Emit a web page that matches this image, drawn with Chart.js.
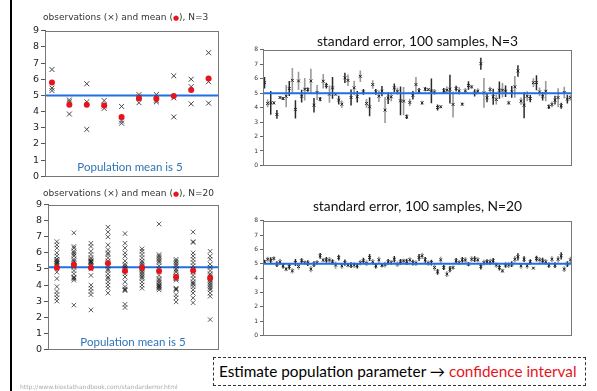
<!DOCTYPE html>
<html><head><meta charset="utf-8">
<script src="https://cdn.jsdelivr.net/npm/chart.js@4.4.1/dist/chart.umd.min.js"></script>
<style>
html,body{margin:0;padding:0;background:#fff;}
body{width:597px;height:391px;position:relative;overflow:hidden;font-family:"DejaVu Sans",sans-serif;}
canvas{position:absolute;}
.vbar{position:absolute;left:10px;top:0;width:2px;height:391px;background:#000;}
.ltitle{position:absolute;font-family:"DejaVu Sans";font-size:9px;color:#333;white-space:nowrap;line-height:12px;}
.ltitle .dot{color:#e8141c;font-size:7px;}
.pop{position:absolute;font-family:Lato;font-size:11.5px;color:#2e75b6;white-space:nowrap;transform:translateX(-50%);line-height:14px;}
.box{position:absolute;left:213px;top:357px;width:373px;height:29px;border:1px dashed #333;box-sizing:border-box;font-family:Lato;font-size:15.3px;line-height:27px;color:#000;white-space:nowrap;padding-left:5px;}
.box .red{color:#e8141c;}
.url{position:absolute;left:20px;top:383px;font-family:"DejaVu Sans";font-size:6px;color:#aaa;white-space:nowrap;line-height:8px;}
</style>
</head><body>
<div class="vbar"></div>
<canvas id="tl" width="206" height="161" style="left:18px;top:23px"></canvas>
<canvas id="bl" width="206" height="160" style="left:18px;top:197px"></canvas>
<canvas id="tr" width="341" height="141" style="left:236px;top:30px"></canvas>
<canvas id="br" width="341" height="146" style="left:236px;top:195px"></canvas>
<div class="ltitle" style="left:43px;top:11px">observations (×) and mean (<span class="dot">●</span>), N=3</div>
<div class="ltitle" style="left:43px;top:187px">observations (×) and mean (<span class="dot">●</span>), N=20</div>
<div class="pop" style="left:130px;top:160px">Population mean is 5</div>
<div class="pop" style="left:133px;top:335px">Population mean is 5</div>
<div class="box">Estimate population parameter → <span class="red">confidence interval</span></div>
<div class="url">http://www.biostathandbook.com/standarderror.html</div>
<script>
// ---------- data ----------
const groups = [1,2,3,4,5,6,7,8,9,10];
const popMean = 5;
const popLineN20 = 5.1;

const obsN3 = [
  [6.6,5.45,5.3],[4.72,4.6,3.85],[5.72,4.6,2.9],[4.68,4.35,4.2],[4.32,3.42,3.28],
  [5.05,4.55,4.9],[4.7,4.6,5.05],[6.21,4.85,3.67],[6.0,5.54,4.48],[7.64,5.85,4.52]
];
const meanN3 = [5.8,4.42,4.42,4.38,3.67,4.83,4.79,4.97,5.34,6.05];

const obsN20 = [
  [6.7,6.5,6.3,6.0,5.8,5.6,5.6,5.5,5.45,5.4,5.35,5.3,5.2,4.8,4.4,3.9,3.6,3.4,3.2,3.0],
  [7.25,6.4,6.3,6.1,6.0,5.9,5.8,5.6,5.5,5.4,5.3,5.2,5.1,4.9,4.7,4.5,4.45,4.4,4.3,2.75],
  [6.6,6.4,6.1,5.9,5.7,5.6,5.5,5.5,5.45,5.4,5.4,5.3,5.2,5.0,4.6,4.0,3.8,3.6,3.4,2.45],
  [7.6,7.3,7.0,6.5,6.2,6.0,5.9,5.7,5.5,5.4,5.2,5.0,4.9,4.7,4.5,4.4,4.2,4.0,3.8,3.5],
  [7.2,6.6,6.3,6.0,5.8,5.5,5.3,5.2,5.1,5.0,4.9,4.7,4.5,4.2,3.9,3.75,3.7,3.65,2.8,2.6],
  [6.25,6.1,5.9,5.7,5.5,5.4,5.3,5.2,5.1,5.05,5.0,4.9,4.8,4.7,4.6,4.5,4.4,4.2,4.0,3.8],
  [7.8,5.9,5.8,5.7,5.6,5.5,5.4,5.2,5.0,4.6,4.4,4.3,4.2,4.1,4.0,3.95,3.9,3.85,3.8,3.7],
  [5.6,5.5,5.4,5.3,5.2,5.0,4.9,4.8,4.6,4.5,4.4,4.5,4.4,4.3,3.8,3.75,3.7,3.4,3.2,2.95],
  [7.3,6.7,6.65,6.0,5.8,5.6,5.4,5.2,5.0,4.8,4.6,4.4,4.2,4.1,4.05,3.9,3.7,3.5,3.2,2.9],
  [6.1,5.8,5.6,5.3,5.1,4.9,4.7,4.6,4.5,4.4,4.3,4.2,4.1,4.0,3.9,3.8,3.7,3.5,3.3,1.85]
];
const meanN20 = [5.07,5.26,5.07,5.36,4.87,5.07,4.87,4.5,4.91,4.44];

const sampleMeansN3 = [
  5.73,4.29,4.33,4.33,3.53,4.70,4.63,4.79,5.32,5.89,
  3.88,5.85,4.79,5.28,5.25,5.85,4.17,5.05,4.59,5.83,
  5.53,4.93,5.37,4.93,4.52,4.24,6.06,5.89,4.70,5.37,
  4.75,6.17,5.09,4.29,4.06,5.60,5.09,4.79,5.14,3.83,
  4.66,4.75,5.37,5.14,4.47,4.45,3.37,4.36,4.86,5.60,
  5.16,4.33,5.28,5.25,5.16,5.09,4.01,4.06,5.16,5.21,
  5.28,4.22,5.32,5.16,4.24,5.16,5.53,5.44,5.02,5.14,
  7.04,5.02,4.68,5.25,4.75,4.56,5.21,5.21,5.14,4.33,
  5.09,5.44,6.54,4.45,4.17,4.79,4.63,5.73,5.73,5.09,
  4.79,5.14,4.06,4.22,4.52,4.70,4.13,5.05,4.59,4.70
];
const sampleSEN3 = [
  0.40,0.27,0.82,0.12,0.30,0.10,0.10,0.77,0.52,0.86,
  0.63,0.63,0.44,0.78,0.15,0.84,0.50,0.52,0.15,0.50,
  0.20,0.60,0.75,0.10,0.30,0.25,0.35,0.40,0.55,0.50,
  0.40,0.40,0.20,0.30,0.66,0.30,0.20,0.40,0.35,0.90,
  0.40,0.30,0.30,0.25,1.00,0.98,0.15,0.25,0.30,0.52,
  0.20,0.15,0.15,0.10,0.86,0.20,0.20,0.10,0.20,0.25,
  1.00,0.90,0.20,0.25,0.10,0.20,0.30,0.15,0.25,0.20,
  0.42,1.03,0.30,0.20,0.55,0.35,0.60,0.50,0.40,0.15,
  0.40,0.75,0.40,0.25,0.90,0.35,0.25,0.30,0.52,0.30,
  0.30,0.70,0.15,0.20,0.30,0.65,0.20,0.40,0.30,0.20
];
const sampleMeansN20 = [
  5.14,5.32,5.26,5.37,4.98,5.14,4.86,4.63,4.81,4.51,
  5.09,4.81,5.21,5.09,5.05,4.63,4.98,5.09,5.56,5.26,
  5.28,5.26,5.14,4.91,5.44,4.86,5.09,4.91,4.91,4.91,
  4.86,5.09,5.21,5.05,5.44,5.14,4.86,5.28,4.91,4.95,
  5.14,5.09,5.32,4.98,5.14,5.21,5.14,5.28,5.09,5.05,
  5.44,5.56,5.28,5.05,5.09,4.74,4.44,5.28,4.74,4.28,
  4.63,4.74,5.21,5.09,5.28,5.26,4.98,5.32,5.32,5.28,
  4.81,5.09,5.14,5.14,5.21,4.91,4.74,4.51,4.91,4.91,
  4.98,5.32,5.49,4.86,5.32,4.86,5.14,4.70,5.37,5.28,
  5.21,5.14,4.91,5.32,4.91,5.32,5.56,4.63,4.98,5.28
];
const sampleSEN20 = [
  0.15,0.18,0.20,0.15,0.20,0.22,0.18,0.15,0.20,0.18,
  0.25,0.20,0.18,0.15,0.20,0.22,0.20,0.18,0.20,0.15,
  0.20,0.22,0.18,0.25,0.20,0.20,0.22,0.15,0.20,0.20,
  0.18,0.20,0.22,0.20,0.25,0.20,0.18,0.22,0.15,0.20,
  0.20,0.18,0.22,0.20,0.20,0.15,0.22,0.18,0.20,0.20,
  0.25,0.22,0.20,0.18,0.20,0.22,0.20,0.22,0.18,0.20,
  0.22,0.15,0.20,0.18,0.20,0.22,0.15,0.20,0.20,0.18,
  0.20,0.20,0.18,0.22,0.20,0.18,0.20,0.15,0.18,0.20,
  0.20,0.22,0.25,0.20,0.20,0.20,0.18,0.08,0.20,0.20,
  0.22,0.20,0.18,0.20,0.20,0.22,0.25,0.20,0.20,0.22
];
const leftYMax = 9, rightYMax = 8;

// ---------- helpers ----------
const BLUE = '#1f6fe5';
const framePlugin = {
  id: 'frame',
  afterDraw(chart, args, opts) {
    const {ctx, chartArea: a} = chart;
    ctx.save();
    ctx.strokeStyle = opts.color || '#666';
    ctx.lineWidth = 1;
    ctx.strokeRect(Math.round(a.left) + 0.5, Math.round(a.top) + 0.5,
                   Math.round(a.right - a.left) - 1, Math.round(a.bottom - a.top) - 1);
    ctx.restore();
  }
};
Chart.register(framePlugin);

function leftChart(id, obs, means, lineY, axisW, xMin, xMax, obsStyle) {
  const pts = obs.flatMap((arr, i) => arr.map(v => ({x: groups[i], y: v})));
  const mpts = means.map((v, i) => ({x: groups[i], y: v}));
  return new Chart(document.getElementById(id), {
    type: 'scatter',
    data: { datasets: [
      { data: mpts, pointStyle: 'circle', pointRadius: 3, backgroundColor: '#e8141c', borderColor: '#e8141c', borderWidth: 0, order: 0 },
      { data: pts, pointStyle: 'crossRot', pointRadius: obsStyle.r, borderColor: obsStyle.c, borderWidth: 1, backgroundColor: 'transparent', order: 1 },
      { type: 'line', data: [{x: xMin, y: lineY}, {x: xMax, y: lineY}], showLine: true, borderColor: BLUE, borderWidth: 2, pointRadius: 0, order: 2 }
    ]},
    options: {
      responsive: false, animation: false, devicePixelRatio: 1,
      layout: { padding: { top: 6, right: 2, bottom: 7, left: 0 } },
      plugins: { legend: { display: false }, tooltip: { enabled: false }, frame: { color: '#777' } },
      scales: {
        x: { type: 'linear', min: xMin, max: xMax, display: false },
        y: { min: 0, max: leftYMax,
             ticks: { stepSize: 1, color: '#222', padding: 2, font: { family: 'DejaVu Sans', size: 9.5 } },
             grid: { drawOnChartArea: false, drawTicks: true, tickLength: 4, color: '#555' },
             border: { display: true, color: '#555', width: 1 },
             afterFit(s) { s.width = axisW; } }
      }
    }
  });
}

function segs(means, se, parity) {
  const out = [];
  means.forEach((m, i) => {
    if (i % 2 !== parity) return;
    out.push({x: i + 1, y: m - se[i]}, {x: i + 1, y: m + se[i]}, {x: i + 1, y: null});
  });
  return out;
}

function rightChart(id, title, means, se, padBottomTitle) {
  const mpts = means.map((m, i) => ({x: i + 1, y: m}));
  return new Chart(document.getElementById(id), {
    type: 'scatter',
    data: { datasets: [
      { type: 'line', data: [{x: 0.5, y: popMean}, {x: means.length + 0.5, y: popMean}], showLine: true, borderColor: BLUE, borderWidth: 2, pointRadius: 0, order: 0 },
      { data: mpts, pointStyle: 'crossRot', pointRadius: 2, borderColor: '#222', borderWidth: 1, order: 1 },
      { type: 'line', data: segs(means, se, 0), showLine: true, spanGaps: false, borderColor: '#2a2a2a', borderWidth: 1.5, pointRadius: 0, order: 2 },
      { type: 'line', data: segs(means, se, 1), showLine: true, spanGaps: false, borderColor: '#999999', borderWidth: 1.6, pointRadius: 0, order: 3 }
    ]},
    options: {
      responsive: false, animation: false, devicePixelRatio: 1,
      layout: { padding: { top: 4, right: 3, bottom: 5, left: 0 } },
      plugins: {
        legend: { display: false }, tooltip: { enabled: false }, frame: { color: '#777' },
        title: { display: true, text: title, fullSize: false, color: '#111',
                 font: { family: 'Lato', size: 13.8, weight: 'normal', lineHeight: 1.15 },
                 padding: { top: 0, bottom: padBottomTitle } }
      },
      scales: {
        x: { type: 'linear', min: 0.5, max: means.length + 0.5, display: false },
        y: { min: 0, max: rightYMax,
             ticks: { stepSize: 1, color: '#333', padding: 2, font: { family: 'DejaVu Sans', size: 6 } },
             grid: { drawOnChartArea: false, drawTicks: true, tickLength: 3, color: '#666' },
             border: { display: true, color: '#666', width: 1 },
             afterFit(s) { s.width = 27; } }
      }
    }
  });
}

leftChart('tl', obsN3, meanN3, popMean, 27, 0.6, 10.6, { r: 3.5, c: '#444' });
leftChart('bl', obsN20, meanN20, popLineN20, 30, 0.48, 10.52, { r: 3.2, c: 'rgba(25,25,25,0.7)' });
rightChart('tr', 'standard error, 100 samples, N=3', sampleMeansN3, sampleSEN3, 0);
rightChart('br', 'standard error, 100 samples, N=20', sampleMeansN20, sampleSEN20, 6);
</script>
</body></html>
